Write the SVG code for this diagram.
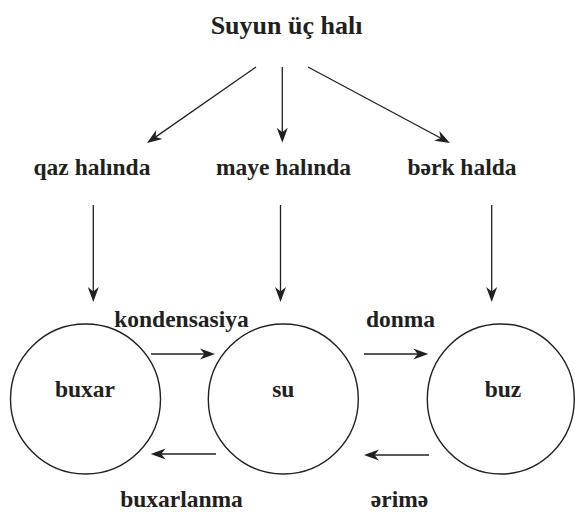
<svg xmlns="http://www.w3.org/2000/svg" width="575" height="513" viewBox="0 0 575 513">
<style>
text{font-family:"Liberation Serif","DejaVu Serif",serif;font-weight:bold;fill:#231f20;text-anchor:middle}
.t{font-size:26px}
.l{font-size:23.5px}
.c{fill:none;stroke:#231f20;stroke-width:1.4}
.a{fill:none;stroke:#231f20;stroke-width:1.3;marker-end:url(#ah)}
</style>
<defs>
<marker id="ah" markerUnits="userSpaceOnUse" viewBox="-16 -6 17 12" markerWidth="17" markerHeight="12" refX="-8" refY="0" orient="auto">
<path d="M0,0 L-15,-5.5 L-10.5,0 L-15,5.5 Z" fill="#231f20"/>
</marker>
</defs>
<rect width="575" height="513" fill="#fff"/>
<g id="title"><text class="t" x="286.5" y="34">Suyun üç halı</text></g>
<g id="qaz"><text class="l" x="92" y="175">qaz halında</text></g>
<g id="maye"><text class="l" x="283.5" y="175">maye halında</text></g>
<g id="berk"><text class="l" x="462" y="175">bərk halda</text></g>
<g id="buxar"><ellipse class="c" cx="85.5" cy="399" rx="75" ry="75"/><text class="l" x="85" y="397">buxar</text></g>
<g id="su"><ellipse class="c" cx="283.3" cy="399" rx="75" ry="75"/><text class="l" x="283.3" y="397">su</text></g>
<g id="buz"><ellipse class="c" cx="500.8" cy="399" rx="73.5" ry="75"/><text class="l" x="503" y="397">buz</text></g>
<g id="connectors">
<line class="a" x1="256" y1="67" x2="153.6" y2="138.4"/>
<line class="a" x1="282.3" y1="67" x2="282.3" y2="134.7"/>
<line class="a" x1="308" y1="67" x2="442.9" y2="139.2"/>
<line class="a" x1="93.3" y1="205" x2="93.3" y2="294"/>
<line class="a" x1="280.5" y1="205" x2="280.5" y2="294"/>
<line class="a" x1="491.7" y1="205" x2="491.7" y2="294"/>
<line class="a" x1="151" y1="354" x2="207" y2="354"/>
<line class="a" x1="364" y1="354" x2="420.3" y2="354"/>
<line class="a" x1="216" y1="454" x2="158.7" y2="454"/>
<line class="a" x1="429" y1="455" x2="372" y2="455"/>
</g>
<g id="labels">
<text class="l" x="181.5" y="327">kondensasiya</text>
<text class="l" x="400.5" y="327">donma</text>
<text class="l" x="181.5" y="507">buxarlanma</text>
<text class="l" x="399.5" y="507">ərimə</text>
</g>
</svg>
